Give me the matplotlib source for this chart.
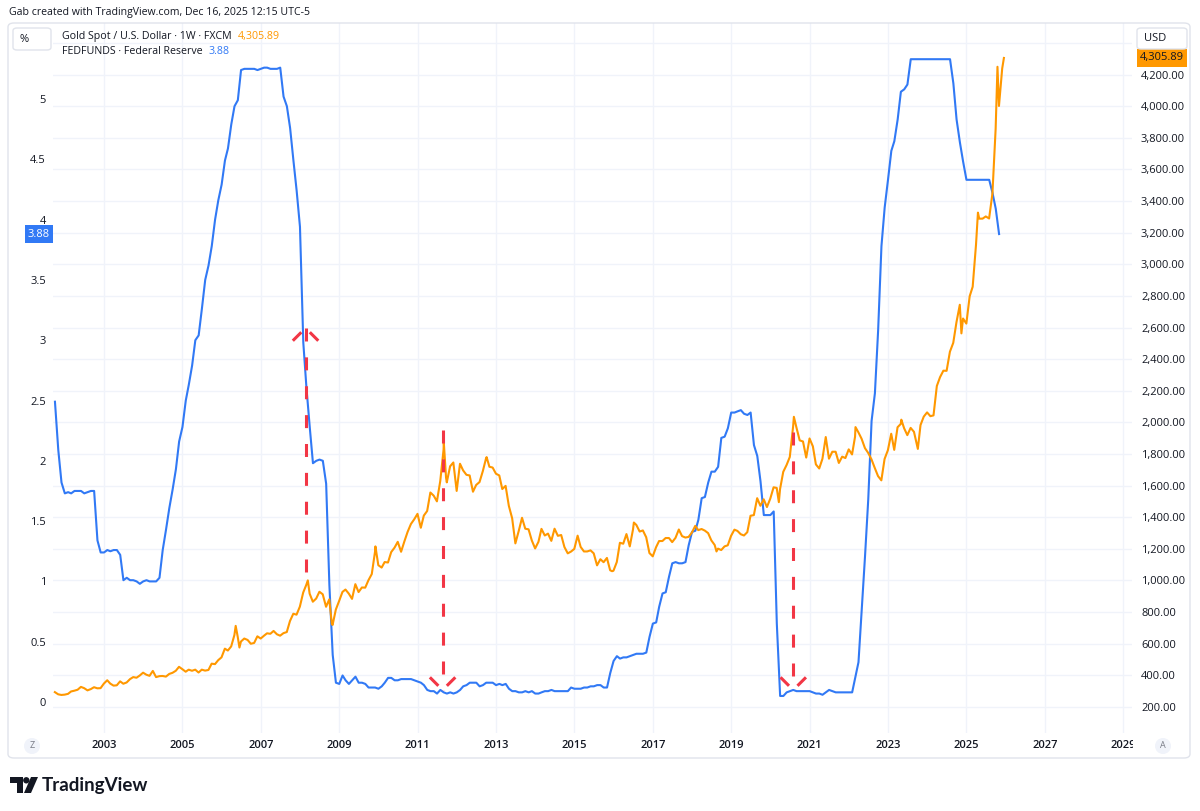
import datetime as dt
import numpy as np
import pandas as pd
import matplotlib
matplotlib.use('Agg')
import matplotlib.pyplot as plt
import matplotlib.dates as mdates
import matplotlib.ticker as mticker
from matplotlib.patches import FancyBboxPatch, Circle, Polygon
from matplotlib.transforms import blended_transform_factory, Bbox

plt.rcParams['font.family'] = ['Open Sans', 'DejaVu Sans']

# ---- data -------------------------------------------------------------
# Effective federal funds rate, monthly, Oct 2001 .. Nov 2025 (%)
fed_start = '2001-10-01'
fed_rate = [
    2.49, 2.09, 1.82,
    1.73, 1.74, 1.73, 1.75, 1.75, 1.75, 1.73, 1.74, 1.75, 1.75, 1.34, 1.24,
    1.24, 1.26, 1.25, 1.26, 1.26, 1.22, 1.01, 1.03, 1.01, 1.01, 1.00, 0.98,
    1.00, 1.01, 1.00, 1.00, 1.00, 1.03, 1.26, 1.43, 1.61, 1.76, 1.93, 2.16,
    2.28, 2.50, 2.63, 2.79, 3.00, 3.04, 3.26, 3.50, 3.62, 3.78, 4.00, 4.16,
    4.29, 4.49, 4.59, 4.79, 4.94, 4.99, 5.24, 5.25, 5.25, 5.25, 5.25, 5.24,
    5.25, 5.26, 5.26, 5.25, 5.25, 5.25, 5.26, 5.02, 4.94, 4.76, 4.49, 4.24,
    3.94, 2.98, 2.61, 2.28, 1.98, 2.00, 2.01, 2.00, 1.81, 0.97, 0.39, 0.16,
    0.15, 0.22, 0.18, 0.15, 0.18, 0.21, 0.16, 0.16, 0.15, 0.12, 0.12, 0.12,
    0.11, 0.13, 0.16, 0.20, 0.20, 0.18, 0.18, 0.19, 0.19, 0.19, 0.19, 0.18,
    0.17, 0.16, 0.14, 0.10, 0.09, 0.09, 0.07, 0.10, 0.08, 0.07, 0.08, 0.07,
    0.08, 0.10, 0.13, 0.14, 0.16, 0.16, 0.16, 0.13, 0.14, 0.16, 0.16, 0.16,
    0.14, 0.15, 0.14, 0.15, 0.11, 0.09, 0.09, 0.08, 0.08, 0.09, 0.08, 0.09,
    0.07, 0.07, 0.08, 0.09, 0.09, 0.10, 0.09, 0.09, 0.09, 0.09, 0.09, 0.12,
    0.11, 0.11, 0.11, 0.12, 0.12, 0.13, 0.13, 0.14, 0.14, 0.12, 0.12, 0.24,
    0.34, 0.38, 0.36, 0.37, 0.37, 0.38, 0.39, 0.40, 0.40, 0.40, 0.41, 0.54,
    0.65, 0.66, 0.79, 0.90, 0.91, 1.04, 1.15, 1.16, 1.15, 1.15, 1.16, 1.30,
    1.41, 1.42, 1.51, 1.69, 1.70, 1.82, 1.91, 1.91, 1.95, 2.19, 2.20, 2.27,
    2.40, 2.40, 2.41, 2.42, 2.39, 2.38, 2.40, 2.13, 2.04, 1.83, 1.55, 1.55,
    1.55, 1.58, 0.65, 0.05, 0.05, 0.08, 0.09, 0.10, 0.09, 0.09, 0.09, 0.09,
    0.09, 0.08, 0.07, 0.07, 0.06, 0.08, 0.10, 0.09, 0.08, 0.08, 0.08, 0.08,
    0.08, 0.08, 0.20, 0.33, 0.77, 1.21, 1.68, 2.33, 2.56, 3.08, 3.78, 4.10,
    4.33, 4.57, 4.65, 4.83, 5.06, 5.08, 5.12, 5.33, 5.33, 5.33, 5.33, 5.33,
    5.33, 5.33, 5.33, 5.33, 5.33, 5.33, 5.33, 5.33, 5.13, 4.83, 4.64, 4.48,
    4.33, 4.33, 4.33, 4.33, 4.33, 4.33, 4.33, 4.33, 4.22, 4.09, 3.88,
]

# Gold spot month-end close, Sep 2001 .. Nov 2025 (USD)
gold_start = '2001-09-30'
gold_close = [
    293, 279, 275, 277,
    282, 297, 302, 308, 326, 318, 304, 312, 324, 317, 318, 347,
    368, 347, 334, 336, 361, 346, 354, 375, 388, 384, 398, 416,
    403, 396, 427, 388, 394, 395, 391, 408, 415, 428, 453, 438,
    422, 435, 428, 435, 417, 435, 429, 433, 473, 470, 495, 513,
    568, 556, 582, 654, 643, 613, 632, 623, 599, 604, 646, 632,
    650, 665, 662, 680, 659, 650, 666, 673, 743, 789, 783, 834,
    923, 972, 916, 865, 885, 928, 912, 833, 880, 718, 815, 870,
    927, 942, 916, 883, 976, 926, 955, 954, 1001, 1040, 1180, 1096,
    1081, 1116, 1113, 1179, 1207, 1244, 1181, 1247, 1307, 1357, 1386, 1421,
    1333, 1410, 1439, 1556, 1536, 1500, 1628, 1828, 1620, 1722, 1746, 1566,
    1738, 1696, 1668, 1664, 1561, 1604, 1622, 1692, 1773, 1719, 1714, 1675,
    1664, 1578, 1598, 1472, 1393, 1234, 1312, 1396, 1327, 1323, 1253, 1202,
    1244, 1326, 1284, 1296, 1250, 1327, 1282, 1287, 1211, 1171, 1182, 1199,
    1283, 1212, 1183, 1183, 1190, 1171, 1095, 1134, 1115, 1142, 1064, 1061,
    1116, 1238, 1232, 1293, 1215, 1322, 1351, 1309, 1316, 1273, 1173, 1152,
    1210, 1249, 1249, 1268, 1268, 1242, 1269, 1322, 1280, 1271, 1275, 1303,
    1345, 1318, 1325, 1315, 1299, 1253, 1224, 1201, 1192, 1215, 1222, 1282,
    1321, 1313, 1292, 1284, 1305, 1409, 1413, 1520, 1472, 1513, 1464, 1517,
    1589, 1585, 1577, 1687, 1730, 1781, 1975, 1967, 1886, 1879, 1777, 1898,
    1848, 1734, 1708, 1769, 1907, 1770, 1814, 1814, 1743, 1783, 1774, 1829,
    1797, 1909, 1937, 1896, 1837, 1807, 1766, 1711, 1660, 1633, 1768, 1824,
    1928, 1826, 1969, 1990, 1963, 1919, 1965, 1940, 1849, 1983, 2036, 2063,
    2039, 2044, 2230, 2286, 2327, 2326, 2447, 2503, 2634, 2744, 2657, 2625,
    2798, 2858, 3124, 3289, 3289, 3303, 3290, 3448, 3858, 4002, 4239,
]

# weekly closes at the visible spikes / dips, plus the last print
gold_extra_dates = ['2006-05-12', '2006-06-16', '2008-03-14', '2008-10-24',
                    '2009-12-04', '2011-09-02', '2011-09-23', '2012-10-05',
                    '2015-12-18', '2016-07-08', '2018-08-17', '2020-03-20',
                    '2020-08-07', '2022-03-04', '2023-05-05', '2023-10-06',
                    '2024-11-15', '2025-04-18', '2025-10-17', '2025-12-16']
gold_extra_values = [712, 575, 1000, 725,
                     1215, 1875, 1650, 1780,
                     1058, 1366, 1183, 1495,
                     2035, 1970, 2017, 1832,
                     2563, 3327, 4250, 4305.89]

gold_last = 4305.89
fed_last = 3.88

# hand-drawn red arrows (date, tail in USD, tip in USD)
arrow_dates = ['2008-02-22', '2011-08-22', '2020-08-01']
arrow_tail = [1000, 1952, 1939]
arrow_tip = [2597, 306, 306]

usd_ticks = list(range(200, 4401, 200))
pct_ticks = [0, 0.5, 1, 1.5, 2, 2.5, 3, 3.5, 4, 4.5, 5]
year_ticks = list(range(2003, 2030, 2))

# ---- colours ------------------------------------------------------------
BLUE = '#3179f5'
ORANGE = '#ff9800'
RED = '#f23645'
TXT = '#131722'
GRID = '#f0f3fa'
BORDER = '#e0e3eb'

fed = pd.Series(fed_rate, index=pd.date_range(fed_start, periods=len(fed_rate), freq='MS'))
gold = pd.concat([
    pd.Series(gold_close, index=pd.date_range(gold_start, periods=len(gold_close), freq='ME')),
    pd.Series(gold_extra_values, index=pd.to_datetime(gold_extra_dates)),
]).sort_index()

W, H = 1200, 811
def fx(x):
    return x / W
def fy(y):
    return 1 - y / H

fig = plt.figure(figsize=(12, 8.11), dpi=100)
ax = fig.add_axes([fx(53), fy(733), (1132 - 53) / W, (733 - 23) / H])
axf = ax.twinx()
axg = ax.twinx()

# x scale: 2003-01-01 at x=104px, 39.2 px per year
px_per_day = 39.2 / 365.25
x_ref = mdates.date2num(dt.datetime(2003, 1, 1))
xlim = (x_ref - (104 - 53) / px_per_day, x_ref + (1132 - 104) / px_per_day)
for a in (ax, axf, axg):
    for s in a.spines.values():
        s.set_visible(False)

usd_lim = (200 - (733 - 706.8) / 0.15803, 200 + (706.8 - 23) / 0.15803)
pct_lim = ((702 - 733) / 120.6, (702 - 23) / 120.6)

# grid (on the bottom axes)
ax.set_yticks(usd_ticks)
ax.yaxis.set_major_formatter(
    mticker.FuncFormatter(lambda v, p: f'{v:,.2f}' if v < 4300 else ''))
ax.set_xticks([mdates.date2num(dt.datetime(y, 1, 1)) for y in year_ticks])
ax.grid(True, color=GRID, lw=1)
ax.yaxis.tick_right()
ax.tick_params(axis='y', length=0, pad=6.5, labelsize=8, labelcolor=TXT,
               left=False, labelleft=False, right=False, labelright=True)
ax.tick_params(axis='x', length=0, labelbottom=False)

axf.yaxis.tick_left()
axf.set_yticks(pct_ticks)
axf.yaxis.set_major_formatter(mticker.FuncFormatter(lambda v, p: f'{v:g}'))
axf.tick_params(axis='y', length=0, pad=5, labelsize=8, labelcolor=TXT,
                left=False, labelleft=True, right=False, labelright=False)
axg.tick_params(axis='y', length=0, left=False, right=False,
                labelleft=False, labelright=False)

axf.plot(fed.index, fed.values, color=BLUE, lw=1.5, solid_joinstyle='round')
axg.plot(gold.index, gold.values, color=ORANGE, lw=1.5, solid_joinstyle='round')

# limits fixed after ticks/plots so nothing re-expands them
for a in (ax, axf, axg):
    a.set_xlim(*xlim)
ax.set_ylim(*usd_lim)
axg.set_ylim(*usd_lim)
axf.set_ylim(*pct_lim)

# red dashed arrows
dash = (0, (4.25, 5.2))
for d, tail, tip in zip(arrow_dates, arrow_tail, arrow_tip):
    xd = mdates.date2num(pd.Timestamp(d))
    top, bot = max(tail, tip), min(tail, tip)
    axg.plot([xd, xd], [top, bot], color=RED, lw=2.2, linestyle=dash,
             dash_capstyle='butt')
    sgn = -1 if tip > tail else 1
    for side in (-1, 1):
        r = 18 / np.sqrt(2)
        axg.annotate('', xy=(xd, tip), xycoords='data',
                     xytext=(side * r, sgn * r), textcoords='offset pixels',
                     arrowprops=dict(arrowstyle='-', color=RED, lw=2.2,
                                     shrinkA=0, shrinkB=6 * 0.72,
                                     capstyle='butt'))

# year labels on the time scale, clipped at the price scale
blend = blended_transform_factory(ax.transData, ax.transAxes)
clip = Bbox.from_extents(0, 0, 1133, H)
for y in year_ticks:
    t = ax.text(mdates.date2num(dt.datetime(y, 1, 1)), -12 / 710, str(y),
                transform=blend, ha='center', va='center', fontsize=8,
                color=TXT, fontweight='semibold')
    t.set_clip_box(clip)
    t.set_clip_on(True)

# price tags
tag_l = blended_transform_factory(fig.transFigure, axf.transData)
fig.text(fx(50), fed_last, f'{fed_last:.2f}', transform=tag_l, ha='right', va='center',
         fontsize=8, color='white',
         bbox=dict(boxstyle='square,pad=0.3', fc=BLUE, ec='none'))
tag_r = blended_transform_factory(fig.transFigure, axg.transData)
fig.text(fx(1140), gold_last, f'{gold_last:,.2f}', transform=tag_r, ha='left', va='center',
         fontsize=8, color=TXT,
         bbox=dict(boxstyle='square,pad=0.3', fc=ORANGE, ec='none'))

# header and legend
fig.text(fx(9), fy(13), 'Gab created with TradingView.com, Dec 16, 2025 12:15 UTC-5',
         ha='left', va='center', fontsize=7.6, color=TXT)
l1 = fig.text(fx(62), fy(37), 'Gold Spot / U.S. Dollar · 1W · FXCM',
              ha='left', va='center', fontsize=7.7, color=TXT)
ax.annotate(f'{gold_last:,.2f}', xy=(1, 0.5), xycoords=l1, xytext=(6, 0),
            textcoords='offset pixels', ha='left', va='center', fontsize=7.7,
            color=ORANGE, annotation_clip=False)
l2 = fig.text(fx(62), fy(52), 'FEDFUNDS · Federal Reserve',
              ha='left', va='center', fontsize=7.7, color=TXT)
ax.annotate(f'{fed_last:.2f}', xy=(1, 0.5), xycoords=l2, xytext=(6, 0),
            textcoords='offset pixels', ha='left', va='center', fontsize=7.7,
            color=BLUE, annotation_clip=False)

# frame and small widgets
def rbox(x0, y0, x1, y1, r, **kw):
    p = FancyBboxPatch((fx(x0), fy(y1)), fx(x1) - fx(x0), fy(y0) - fy(y1),
                       boxstyle=f'round,pad=0,rounding_size={r / W}',
                       transform=fig.transFigure, **kw)
    fig.add_artist(p)
    return p

rbox(8, 23, 1190, 758, 6, fc='none', ec=BORDER, lw=1)
rbox(13, 28, 51, 50, 4, fc='white', ec=BORDER, lw=1, zorder=5)
fig.text(fx(20), fy(39.5), '%', ha='left', va='center', fontsize=8, color=TXT, zorder=6)
rbox(1137, 28, 1187, 49, 4, fc='white', ec=BORDER, lw=1, zorder=5)
fig.text(fx(1144), fy(38.5), 'USD', ha='left', va='center', fontsize=8, color=TXT, zorder=6)

for cx, lab in ((32, 'Z'), (1163, 'A')):
    fig.add_artist(Circle((cx, H - 746), 8, transform=None, fc='#f0f3fa', ec='none'))
    fig.text(fx(cx), fy(746), lab, ha='center', va='center', fontsize=6.5, color='#787b86')

# TradingView logo
logo_T = [(10, 777), (22.7, 777), (22.7, 793), (16.7, 793), (16.7, 783), (10, 783)]
logo_slash = [(31, 777), (38, 777), (31, 793), (24, 793)]
for pts in (logo_T, logo_slash):
    fig.add_artist(Polygon([(x, H - y) for x, y in pts], closed=True,
                           transform=None, fc='#131722', ec='none'))
fig.add_artist(Circle((26.3, H - 780.3), 3.2, transform=None, fc='#131722', ec='none'))
fig.text(fx(42), fy(785.5), 'TradingView', ha='left', va='center',
         fontsize=13.5, fontweight='bold', color='#131722', family=['Lato', 'DejaVu Sans'])

fig.savefig('out.png', dpi=100, facecolor='white')
